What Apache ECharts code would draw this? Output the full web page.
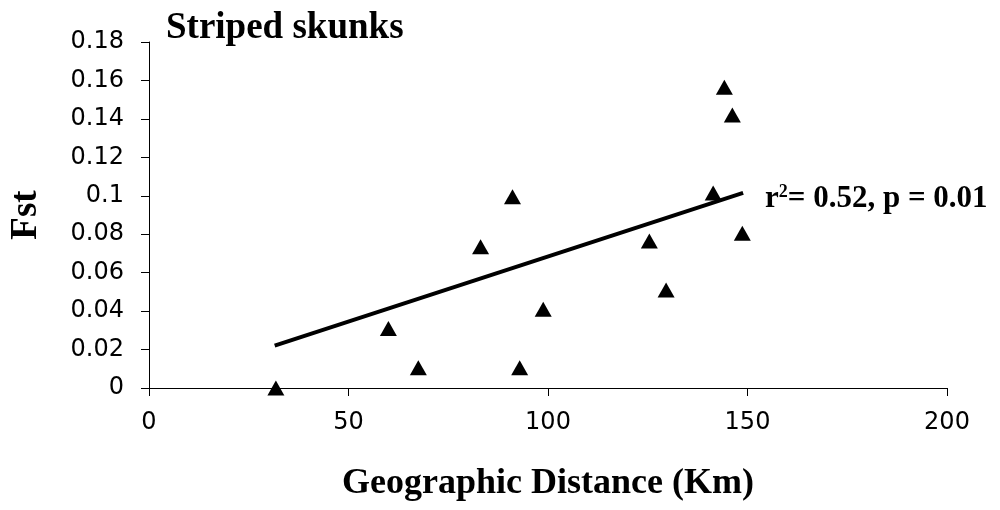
<!DOCTYPE html>
<html>
<head>
<meta charset="utf-8">
<script src="https://cdn.jsdelivr.net/npm/echarts@6/dist/echarts.min.js"></script>
<style>
  html, body { margin: 0; padding: 0; background: #fff; }
  #chart { width: 1000px; height: 510px; }
</style>
</head>
<body>
<div id="chart"></div>
<script>
// distance (km) and Fst for each population pair
var distKm = [31.8, 60.0, 67.5, 83.1, 91.1, 92.9, 98.8, 125.4, 129.6, 141.4, 144.2, 146.2, 148.7];
var fstVal = [0.0, 0.031, 0.0105, 0.0735, 0.0995, 0.0105, 0.041, 0.0765, 0.051, 0.1015, 0.1565, 0.142, 0.0805];

// regression line ends
var fitX = [31.5, 148.9];
var fitY = [0.022, 0.1015];

var yTicks = [0, 0.02, 0.04, 0.06, 0.08, 0.1, 0.12, 0.14, 0.16, 0.18];

var serif = '"Liberation Serif", "Times New Roman", serif';
var sans = '"DejaVu Sans", Arial, sans-serif';

var points = distKm.map(function (d, i) { return [d, fstVal[i]]; });
var fitLine = fitX.map(function (d, i) { return [d, fitY[i]]; });

var chart = echarts.init(document.getElementById('chart'));

chart.setOption({
    backgroundColor: '#fff',
    animation: false,
    title: [
        {
            text: 'Striped skunks',
            left: 166,
            top: 10,
            padding: 0,
            textStyle: { fontFamily: serif, fontWeight: 'bold', fontSize: 37, color: '#000' }
        },
        {
            text: 'r{s|2}= 0.52, p = 0.01',
            left: 765,
            top: 183,
            padding: 0,
            textStyle: {
                fontFamily: serif, fontWeight: 'bold', fontSize: 31, color: '#000', lineHeight: 32,
                rich: {
                    s: { fontFamily: serif, fontWeight: 'bold', fontSize: 18, color: '#000', verticalAlign: 'top', lineHeight: 20 }
                }
            }
        }
    ],
    grid: { left: 148, right: 53, top: 42, bottom: 122 },
    xAxis: {
        type: 'value',
        min: 0,
        max: 200,
        interval: 50,
        name: 'Geographic Distance (Km)',
        nameLocation: 'middle',
        nameGap: 78,
        nameTextStyle: { fontFamily: serif, fontWeight: 'bold', fontSize: 36, color: '#000' },
        axisLine: { show: true, lineStyle: { color: '#000', width: 1 } },
        axisTick: { show: true, length: 8, lineStyle: { color: '#000' } },
        axisLabel: { margin: 23, fontFamily: sans, fontSize: 24, color: '#000' },
        splitLine: { show: false }
    },
    yAxis: {
        type: 'value',
        min: 0,
        max: 0.18,
        interval: 0.02,
        name: 'Fst',
        nameLocation: 'middle',
        nameGap: 104,
        nameTextStyle: { fontFamily: serif, fontWeight: 'bold', fontSize: 37, color: '#000' },
        axisLine: { show: true, lineStyle: { color: '#000', width: 1 } },
        axisTick: { show: true, length: 8, lineStyle: { color: '#000' } },
        axisLabel: {
            margin: 25, fontFamily: sans, fontSize: 24, color: '#000',
            formatter: function (v) {
                var near = yTicks.reduce(function (a, b) { return Math.abs(b - v) < Math.abs(a - v) ? b : a; });
                return String(near);
            }
        },
        splitLine: { show: false }
    },
    series: [
        {
            type: 'line',
            data: fitLine,
            symbol: 'none',
            lineStyle: { color: '#000', width: 4 },
            z: 2
        },
        {
            type: 'scatter',
            data: points,
            symbol: 'triangle',
            symbolSize: [17, 15],
            itemStyle: { color: '#000', opacity: 1 },
            z: 3
        }
    ]
});
</script>
</body>
</html>
